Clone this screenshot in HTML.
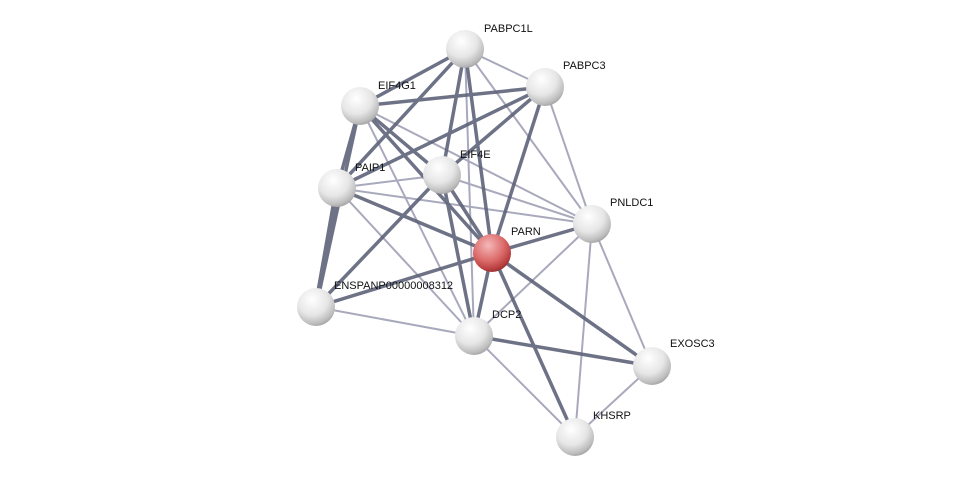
<!DOCTYPE html>
<html><head><meta charset="utf-8"><style>
html,body{margin:0;padding:0;background:#fff;}
svg{display:block;}
text{font-family:"Liberation Sans",sans-serif;font-size:11px;fill:#111;}
</style></head><body>
<svg width="975" height="483" viewBox="0 0 975 483" xmlns="http://www.w3.org/2000/svg">
<defs>
<radialGradient id="g" cx="40%" cy="30%" r="75%">
<stop offset="0" stop-color="#ffffff"/><stop offset="0.55" stop-color="#e6e6e6"/><stop offset="0.85" stop-color="#bdbdbd"/><stop offset="1" stop-color="#9a9a9a"/>
</radialGradient>
<radialGradient id="r" cx="40%" cy="30%" r="75%">
<stop offset="0" stop-color="#f4b8b8"/><stop offset="0.55" stop-color="#dc6b6b"/><stop offset="0.85" stop-color="#b83e3e"/><stop offset="1" stop-color="#8a2a2a"/>
</radialGradient>
</defs>
<g stroke-linecap="round">
<!-- light edges -->
<g stroke="#a9a9bd" stroke-width="2">
<line x1="465" y1="49" x2="545" y2="87"/>
<line x1="465" y1="49" x2="592" y2="224"/>
<line x1="545" y1="87" x2="592" y2="224"/>
<line x1="360" y1="106" x2="592" y2="224"/>
<line x1="337" y1="188" x2="592" y2="224"/>
<line x1="442" y1="175" x2="592" y2="224"/>
<line x1="360" y1="106" x2="474" y2="336"/>
<line x1="337" y1="188" x2="474" y2="336"/>
<line x1="465" y1="49" x2="474" y2="336"/>
<line x1="316" y1="307" x2="474" y2="336"/>
<line x1="474" y1="336" x2="592" y2="224"/>
<line x1="652" y1="366" x2="592" y2="224"/>
<line x1="575" y1="437" x2="592" y2="224"/>
<line x1="575" y1="437" x2="652" y2="366"/>
<line x1="474" y1="336" x2="575" y2="437"/>
<line x1="337" y1="188" x2="442" y2="175"/>
</g>
<!-- dark edges -->
<g stroke="#5e6379" stroke-width="3.5" opacity="0.9">
<line x1="465" y1="49" x2="360" y2="106"/>
<line x1="465" y1="49" x2="337" y2="188"/>
<line x1="465" y1="49" x2="442" y2="175"/>
<line x1="465" y1="49" x2="492" y2="253"/>
<line x1="545" y1="87" x2="360" y2="106"/>
<line x1="545" y1="87" x2="337" y2="188"/>
<line x1="545" y1="87" x2="492" y2="253"/>
<line x1="545" y1="87" x2="442" y2="175"/>
<line x1="360" y1="106" x2="442" y2="175"/>
<line x1="360" y1="106" x2="492" y2="253"/>
<line x1="360" y1="106" x2="337" y2="188"/>
<line x1="360" y1="106" x2="316" y2="307"/>
<line x1="337" y1="188" x2="316" y2="307" stroke-width="5"/>
<line x1="337" y1="188" x2="492" y2="253"/>
<line x1="442" y1="175" x2="316" y2="307"/>
<line x1="442" y1="175" x2="492" y2="253"/>
<line x1="442" y1="175" x2="474" y2="336"/>
<line x1="492" y1="253" x2="592" y2="224"/>
<line x1="492" y1="253" x2="316" y2="307"/>
<line x1="492" y1="253" x2="474" y2="336"/>
<line x1="492" y1="253" x2="652" y2="366"/>
<line x1="492" y1="253" x2="575" y2="437"/>
<line x1="474" y1="336" x2="652" y2="366"/>
</g>
</g>
<g>
<circle cx="465" cy="49" r="19" fill="url(#g)"/>
<circle cx="545" cy="87" r="19" fill="url(#g)"/>
<circle cx="360" cy="106" r="19" fill="url(#g)"/>
<circle cx="442" cy="175" r="19" fill="url(#g)"/>
<circle cx="337" cy="188" r="19" fill="url(#g)"/>
<circle cx="592" cy="224" r="19" fill="url(#g)"/>
<circle cx="492" cy="253" r="19" fill="url(#r)"/>
<circle cx="316" cy="307" r="19" fill="url(#g)"/>
<circle cx="474" cy="336" r="19" fill="url(#g)"/>
<circle cx="652" cy="366" r="19" fill="url(#g)"/>
<circle cx="575" cy="437" r="19" fill="url(#g)"/>
</g>
<text x="484" y="32">PABPC1L</text>
<text x="563" y="69">PABPC3</text>
<text x="378" y="89">EIF4G1</text>
<text x="460" y="158">EIF4E</text>
<text x="355" y="171">PAIP1</text>
<text x="610" y="206">PNLDC1</text>
<text x="511" y="235">PARN</text>
<text x="334" y="289">ENSPANP00000008312</text>
<text x="492" y="318">DCP2</text>
<text x="670" y="347">EXOSC3</text>
<text x="593" y="419">KHSRP</text>
</svg>
</body></html>
